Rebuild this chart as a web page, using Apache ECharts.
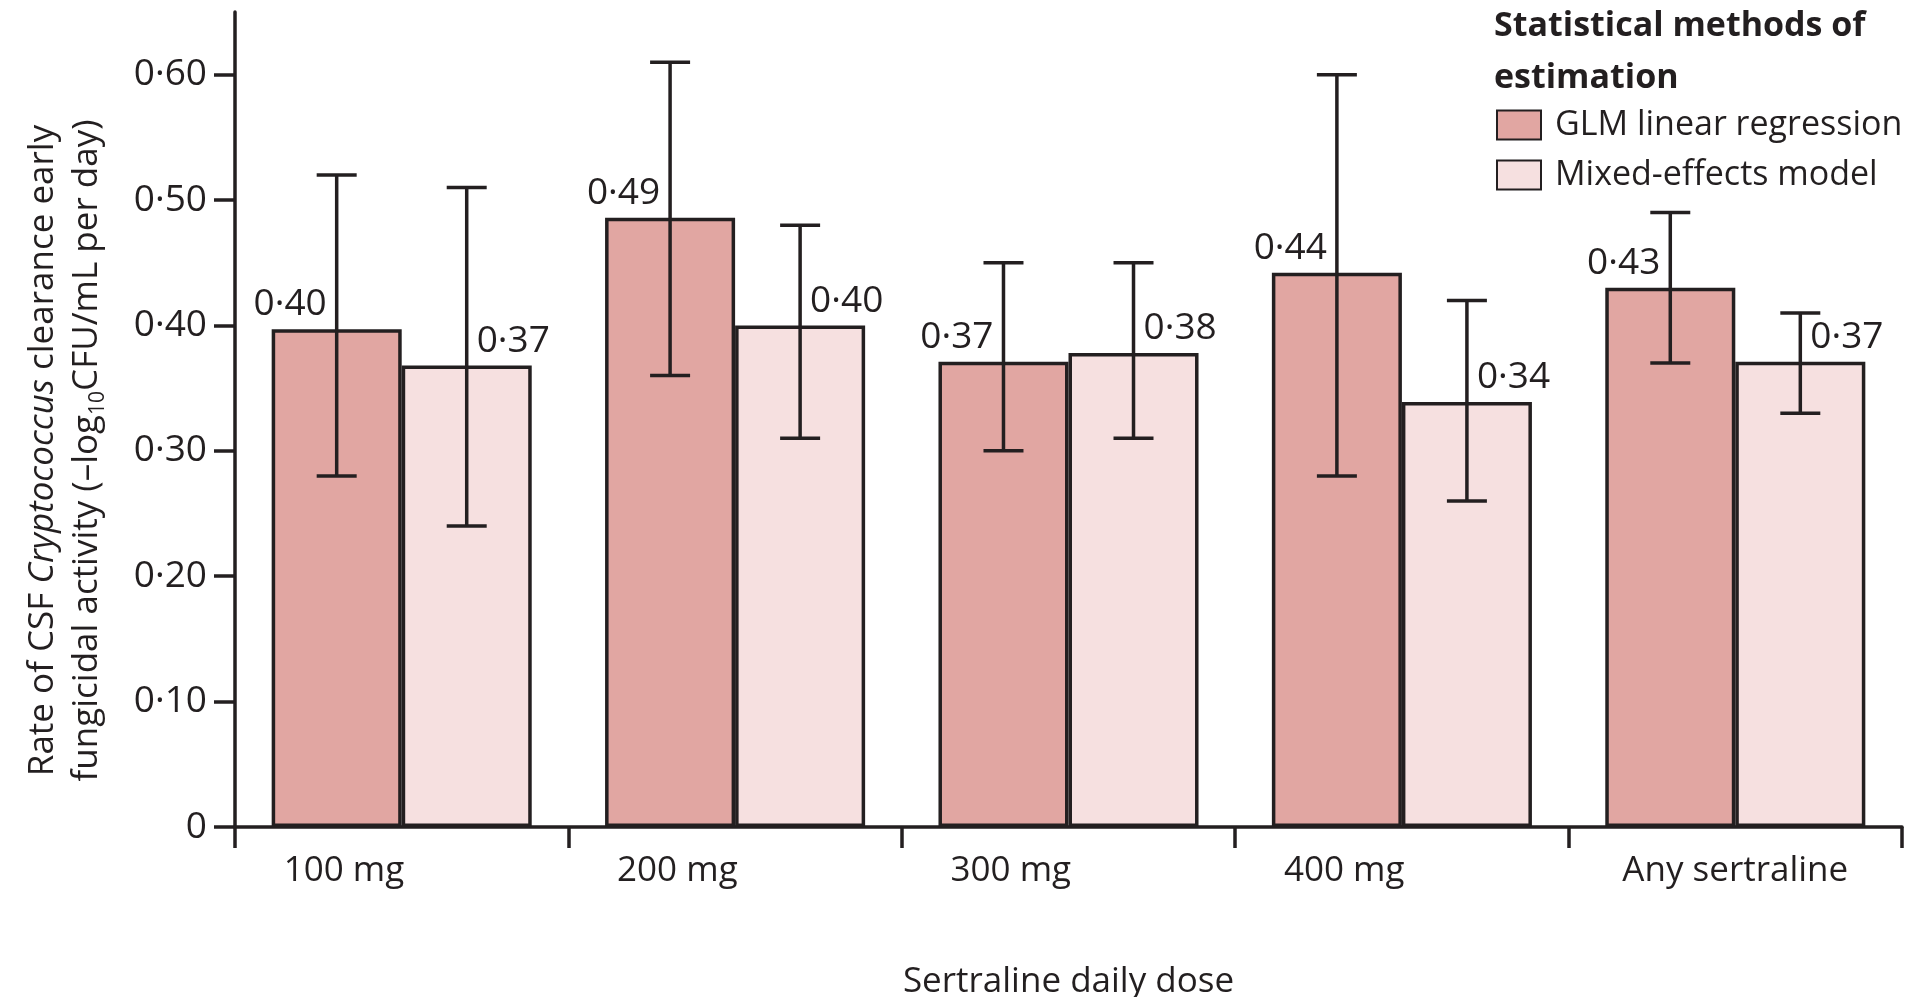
<!DOCTYPE html>
<html>
<head>
<meta charset="utf-8">
<script src="https://cdn.jsdelivr.net/npm/echarts@6/dist/echarts.min.js"></script>
<style>
html, body { margin: 0; padding: 0; background: #ffffff; }
#chart { width: 1921px; height: 997px; }
</style>
</head>
<body>
<div id="chart"></div>
<script>
// ---- data ----
const categories = ['100 mg', '200 mg', '300 mg', '400 mg', 'Any sertraline'];
const seriesNames = ['GLM linear regression', 'Mixed-effects model'];
const glmValues = [0.397, 0.486, 0.371, 0.442, 0.430];
const glmLower = [0.28, 0.36, 0.30, 0.28, 0.37];
const glmUpper = [0.52, 0.61, 0.45, 0.60, 0.49];
const mixedValues = [0.368, 0.400, 0.378, 0.339, 0.371];
const mixedLower = [0.24, 0.31, 0.31, 0.26, 0.33];
const mixedUpper = [0.51, 0.48, 0.45, 0.42, 0.41];
const yTicks = [0, 0.1, 0.2, 0.3, 0.4, 0.5, 0.6];

// ---- styling ----
const ink = '#231F20';
const font = 'Open Sans';
const glmColor = '#E1A6A2';
const mixedColor = '#F6E0E0';
const lw = 3.5;

function fmt(v) {
  return v === 0 ? '0' : Number(v).toFixed(2).replace('.', '\u00B7');
}

function errorRenderer(sign) {
  return function (params, api) {
    const i = api.value(0);
    const band = api.size([1, 0])[0];
    const x = api.coord([i, 0])[0] + sign * band * 0.195;
    const yLow = api.coord([i, api.value(1)])[1];
    const yHigh = api.coord([i, api.value(2)])[1];
    const cap = 20;
    const style = { stroke: ink, lineWidth: lw, fill: null };
    return {
      type: 'group',
      children: [
        { type: 'line', shape: { x1: x, y1: yHigh, x2: x, y2: yLow }, style: style },
        { type: 'line', shape: { x1: x - cap, y1: yHigh, x2: x + cap, y2: yHigh }, style: style },
        { type: 'line', shape: { x1: x - cap, y1: yLow, x2: x + cap, y2: yLow }, style: style }
      ]
    };
  };
}

const chart = echarts.init(document.getElementById('chart'), null, { renderer: 'canvas' });

const option = {
  backgroundColor: '#ffffff',
  animation: false,
  title: {
    text: 'Statistical methods of\nestimation',
    left: 1494,
    top: 0,
    padding: 0,
    textStyle: { fontFamily: font, fontWeight: 'bold', fontSize: 34, lineHeight: 52, color: ink }
  },
  legend: {
    data: seriesNames,
    orient: 'vertical',
    left: 1496,
    top: 105,
    padding: 0,
    itemWidth: 44,
    itemHeight: 29,
    itemGap: 10,
    icon: 'rect',
    selectedMode: false,
    textStyle: { fontFamily: font, fontSize: 34, lineHeight: 40, color: ink, padding: [0, 0, 0, 9] }
  },
  grid: { left: 235, right: 19, top: 12, bottom: 170, containLabel: false, outerBoundsMode: 'none' },
  xAxis: {
    type: 'category',
    data: categories,
    boundaryGap: true,
    axisLine: { lineStyle: { color: ink, width: lw } },
    axisTick: { show: true, length: 21, alignWithLabel: false, lineStyle: { color: ink, width: lw } },
    axisLabel: {
      interval: 0,
      margin: 24,
      width: 236,
      align: 'center',
      formatter: function (v, i) {
        return i === categories.length - 1 ? '{c|' + v + '}' : '{l|' + v + '}';
      },
      rich: {
        l: { align: 'left', fontFamily: font, fontSize: 35, lineHeight: 40, color: ink },
        c: { align: 'center', fontFamily: font, fontSize: 35, lineHeight: 40, color: ink }
      }
    },
    splitLine: { show: false },
    name: 'Sertraline daily dose',
    nameLocation: 'middle',
    nameGap: 135,
    nameTextStyle: { fontFamily: font, fontSize: 35, lineHeight: 40, color: ink }
  },
  yAxis: {
    type: 'value',
    min: 0,
    max: 0.65,
    interval: 0.1,
    splitLine: { show: false },
    axisLine: { show: true, lineStyle: { color: ink, width: lw } },
    axisTick: { show: true, length: 21, lineStyle: { color: ink, width: lw }, customValues: yTicks },
    axisLabel: { customValues: yTicks, formatter: fmt, fontFamily: font, fontSize: 37, color: ink, margin: 28 },
    name: '{n|Rate of CSF }{i|Cryptococcus}{n| clearance early}\n{n|fungicidal activity (\u2013log}{s|10}{n|CFU/mL per day)}',
    nameLocation: 'middle',
    nameRotate: 90,
    nameGap: 126,
    nameTextStyle: {
      fontFamily: font, fontSize: 35, lineHeight: 44, color: ink,
      padding: [0, 62, 0, 0],
      rich: {
        n: { fontFamily: font, fontSize: 35, lineHeight: 44, color: ink },
        i: { fontFamily: font, fontStyle: 'italic', fontSize: 35, lineHeight: 44, color: ink },
        s: { fontFamily: font, fontSize: 21, lineHeight: 24, verticalAlign: 'bottom', color: ink }
      }
    }
  },
  series: [
    {
      type: 'bar',
      name: seriesNames[0],
      data: glmValues,
      barWidth: '39%',
      barGap: '0%',
      itemStyle: { color: glmColor, borderColor: ink, borderWidth: lw },
      label: {
        show: true, position: 'top', align: 'right', offset: [-10, 0], distance: 6,
        formatter: function (p) { return fmt(p.value); },
        fontFamily: font, fontSize: 37, color: ink
      },
      z: 2
    },
    {
      type: 'bar',
      name: seriesNames[1],
      data: mixedValues,
      barWidth: '39%',
      barGap: '0%',
      itemStyle: { color: mixedColor, borderColor: ink, borderWidth: lw },
      label: {
        show: true, position: 'top', align: 'left', offset: [10, 0], distance: 6,
        formatter: function (p) { return fmt(p.value); },
        fontFamily: font, fontSize: 37, color: ink
      },
      z: 2
    },
    {
      type: 'custom',
      name: 'GLM CI',
      renderItem: errorRenderer(-1),
      data: categories.map(function (c, i) { return [i, glmLower[i], glmUpper[i]]; }),
      z: 5
    },
    {
      type: 'custom',
      name: 'Mixed CI',
      renderItem: errorRenderer(1),
      data: categories.map(function (c, i) { return [i, mixedLower[i], mixedUpper[i]]; }),
      z: 5
    }
  ]
};

chart.setOption(option);
</script>
</body>
</html>
